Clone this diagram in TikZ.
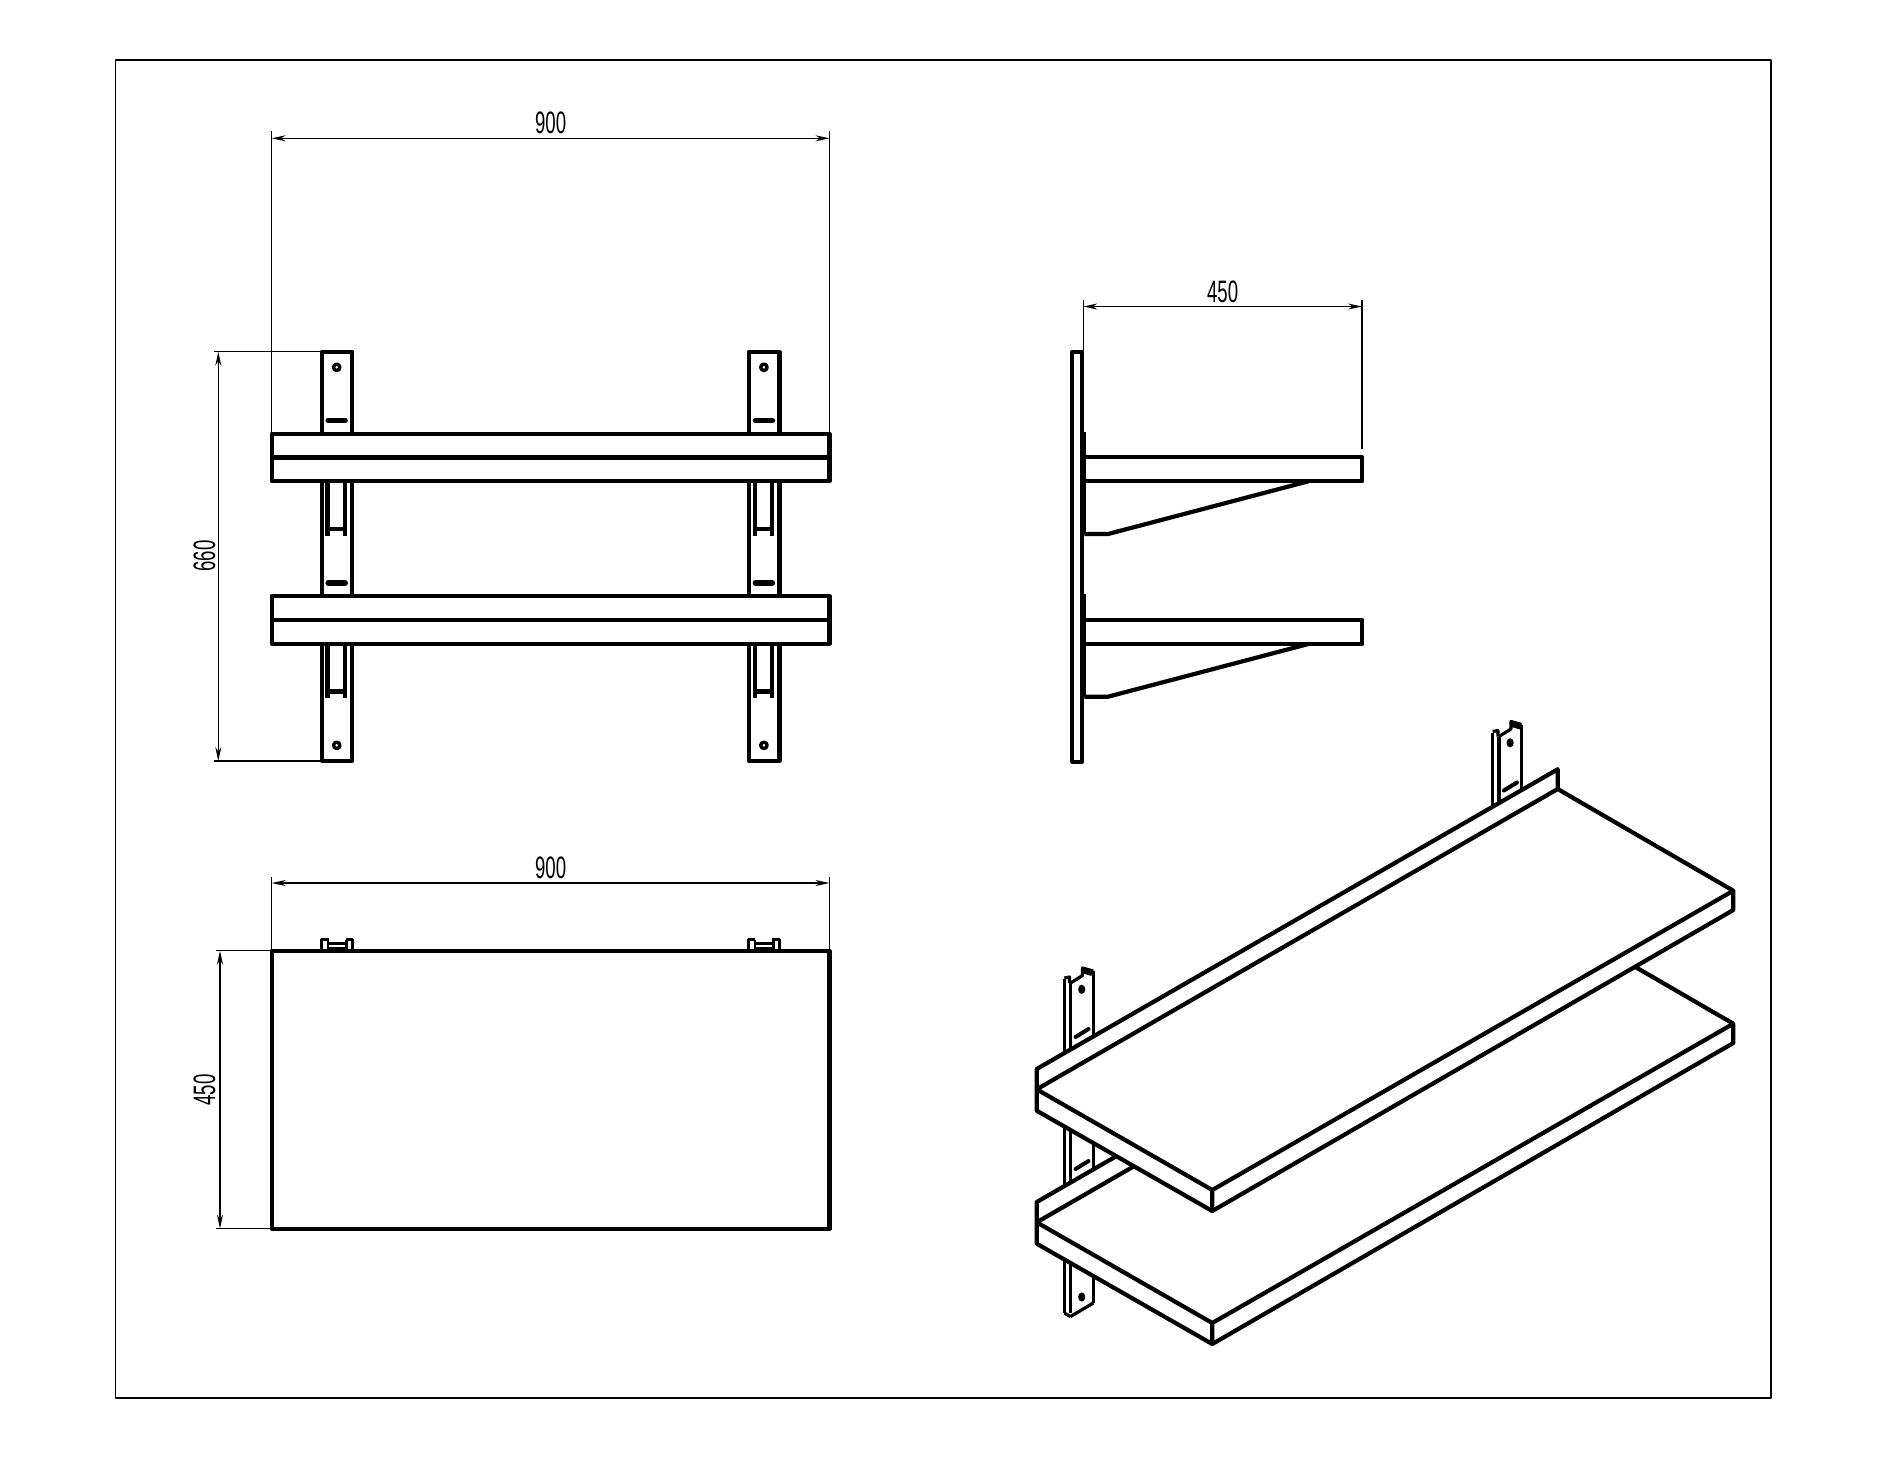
\documentclass[tikz,border=0pt]{standalone}
\usepackage{fontspec}
\newfontfamily\dimfont[FakeStretch=0.6]{Liberation Sans}
\usetikzlibrary{positioning, arrows.meta, calc}

\begin{document}
\begin{tikzpicture}[x=1pt,y=-1pt,line join=round,
  part/.style={draw=black,line width=4.2pt},
  thinpart/.style={draw=black,line width=3.2pt},
  ext/.style={draw=black,line width=1.4pt},
  dim/.style={draw=black,line width=1.4pt,{Stealth[length=14pt,width=6pt]}-{Stealth[length=14pt,width=6pt]}},
  dimlabel/.style={inner sep=0pt,font=\dimfont\fontsize{31}{31}\selectfont}]
\useasboundingbox (0,0) rectangle (1885,1457);
\draw[ext] (115.4,60) rectangle (1771,1398);

% front view
\foreach \bx in {321.7,748.9} {
  \draw[part] (\bx,351.7) rectangle ++(30.6,409.3);
  \foreach \hy in {367.3,745.3} {
    \draw[line width=3.4pt] (\bx+15,\hy) circle (3.2pt);
  }
  \foreach \sy in {420.3,583} {
    \draw[line width=5.5pt,line cap=round] (\bx+6.5,\sy) -- ++(17,0);
  }
  \foreach \gy in {481.3,644} {
    \draw[part] (\bx+5.8,\gy) -- ++(0,54.3) (\bx+23.4,\gy) -- ++(0,54.3)
      (\bx+5.8,\gy+47.5) -- ++(17.6,0);
  }
}
\foreach \sy in {433.7,596} {
  \draw[part,fill=white] (271.7,\sy) rectangle (829.5,\sy+47.6);
  \draw[part] (271.7,\sy+23.8) -- (829.5,\sy+23.8);
}
\coordinate (fa) at (271.7,138.3);
\coordinate (fb) at (829.5,138.3);
\coordinate (fm) at ($(fa)!.5!(fb)$);
\draw[dim] (fa) -- (fb);
\draw[ext] (271.7,131) -- (271.7,433.7) (829.5,131) -- (829.5,433.7);
\node[dimlabel] (fw) [above=4pt of fm] {900};
\coordinate (fc) at (218.3,351.7);
\coordinate (fd) at (218.3,761);
\draw[dim] (fc) -- (fd);
\draw[ext] (214,351.7) -- (321.7,351.7) (214,761) -- (321.7,761);
\node[dimlabel,rotate=90] (fh) at (204.5,556) {660};

% top view
\draw[part] (271.7,950.7) rectangle (829.5,1228.6);
\foreach \tx in {320,746.8} {
  \draw[thinpart] (\tx+1.5,950) -- ++(0,-10.5) -- ++(7,0)
    (\tx+32.5,950) -- ++(0,-10.5) -- ++(-7,0);
  \draw[line width=3pt] (\tx+8,943) -- ++(18.5,0);
  \draw[line width=3.4pt] (\tx+8,949) -- ++(18.5,0);
  \draw[line width=2.4pt] (\tx+8,939.5) -- ++(0,10) (\tx+26.5,939.5) -- ++(0,10);
}
\coordinate (ta) at (271.7,883);
\coordinate (tb) at (829.5,883);
\coordinate (tm) at ($(ta)!.5!(tb)$);
\draw[dim] (ta) -- (tb);
\draw[ext] (271.7,877) -- (271.7,950.7) (829.5,877) -- (829.5,950.7);
\node[dimlabel] (tw) [above=4pt of tm] {900};
\coordinate (tc) at (220,950.7);
\coordinate (td) at (220,1228.6);
\draw[dim] (tc) -- (td);
\draw[ext] (216,950.7) -- (271.7,950.7) (216,1228.6) -- (271.7,1228.6);
\node[dimlabel,rotate=90] (th) at (204.5,1090) {450};

% side view
\draw[part] (1072.3,351.7) rectangle (1082.3,761.7);
\foreach \sy in {457.3,620} {
  \draw[part] (1084.3,\sy-25.6) -- (1084.3,\sy+76.7);
  \draw[part] (1084.3,\sy) rectangle (1362.3,\sy+24);
  \draw[part] (1084.3,\sy+76.7) -- (1108,\sy+76.7) -- (1308.3,\sy+24);
}
\coordinate (sa) at (1083.3,306.5);
\coordinate (sb) at (1362,306.5);
\coordinate (sm) at ($(sa)!.5!(sb)$);
\draw[dim] (sa) -- (sb);
\draw[ext] (1083.3,300) -- (1083.3,351.7) (1362,300) -- (1362,449);
\node[dimlabel] (sw) [above=4pt of sm] {450};

% brackets in perspective
\foreach \bx/\by/\bl in {0/0/1313,428.4/-246.5/1053} {
  \begin{scope}[shift={(\bx,\by)}]
    \draw[thinpart] (1064.3,979) -- (1064.3,\bl) (1070.5,983) -- (1070.5,\bl);
    \draw[thinpart] (1064.3,978) -- (1069.5,977) -- (1069.5,983);
    \draw[thinpart] (1070.5,983) -- (1082.5,975.5) -- (1082.5,968) -- (1093.3,971);
    \draw[line width=5pt] (1083.5,971) -- (1092,973.5);
    \draw[thinpart] (1093.3,971) -- (1093.3,\bl-10);
    \fill (1081.7,989.3) ellipse (3.6pt and 4.6pt);
    \draw[line width=4pt,line cap=round] (1075.5,1037) -- (1088.5,1029);
  \end{scope}
}
\draw[line width=4pt,line cap=round] (1075.5,1169) -- (1088.5,1161);
\fill (1081.7,1297) ellipse (3.6pt and 4.6pt);
\draw[thinpart] (1070.5,1316.5) -- (1093.3,1303) (1064.3,1313) -- (1070.5,1316.5);

% shelves in perspective
\foreach \sy in {133,0} {
  \begin{scope}[shift={(0,\sy)}]
    \draw[part,fill=white] (1036.7,1069) -- (1557.7,769.3) -- (1557.7,789) -- (1733.3,890.7)
      -- (1733.3,910) -- (1212.3,1211) -- (1036.7,1110.7) -- cycle;
    \draw[part] (1036.7,1089.3) -- (1557.7,789) (1036.7,1089.3) -- (1212.3,1190)
      -- (1733.3,890.7) (1212.3,1190) -- (1212.3,1211);
  \end{scope}
}
\end{tikzpicture}
\end{document}
